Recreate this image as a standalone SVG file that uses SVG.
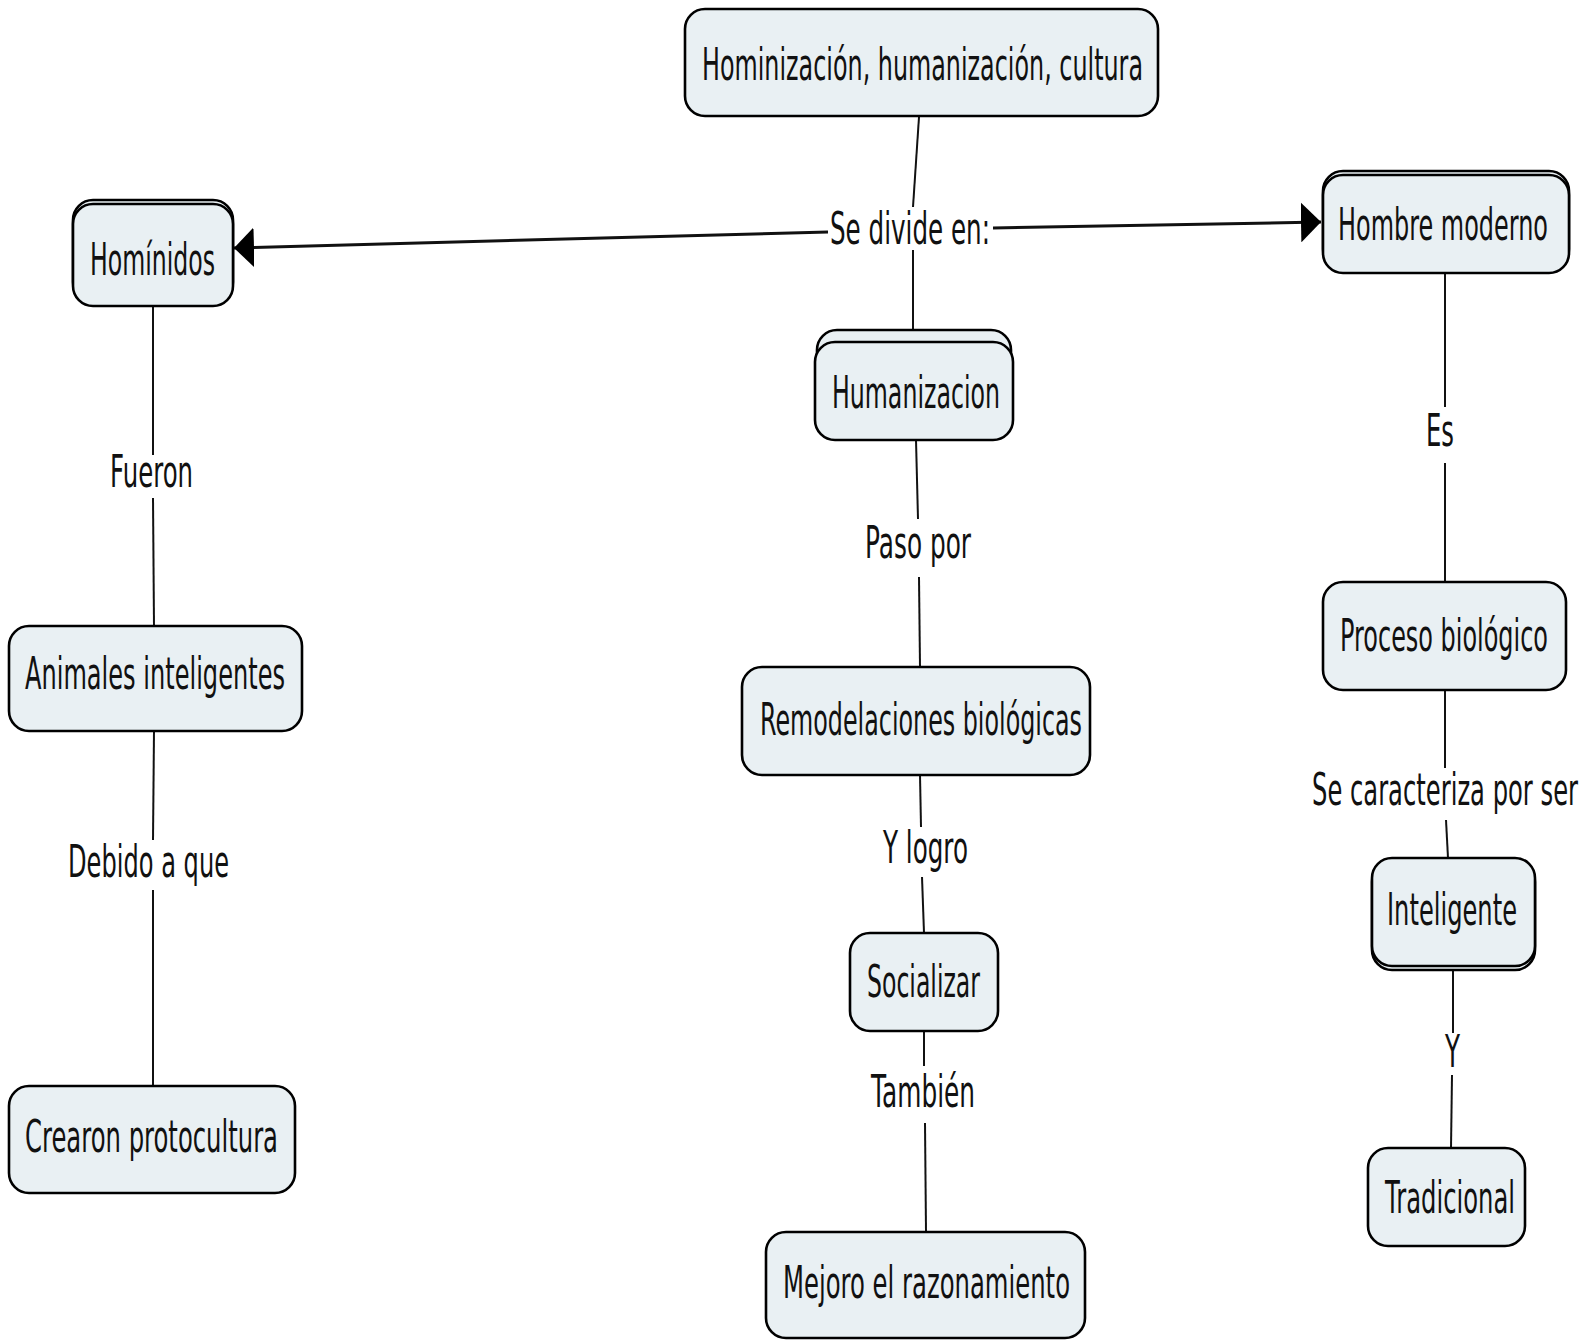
<svg xmlns="http://www.w3.org/2000/svg" width="1596" height="1341" viewBox="0 0 1596 1341">
<defs>
<style>
.box{fill:#e9f0f3;stroke:#000;stroke-width:2.6}
.t{font-family:"DejaVu Sans","Verdana",sans-serif;font-size:22px;fill:#111}
.c{stroke:#111;stroke-width:2;fill:none}
.ca{stroke:#111;stroke-width:3;fill:none}
</style>
<marker id="arr" markerUnits="userSpaceOnUse" markerWidth="20" markerHeight="40" refX="20" refY="20" orient="auto" viewBox="0 0 20 40">
<path d="M0,0 L20,20 L0,40 z" fill="#000"/>
</marker>
</defs>
<rect width="1596" height="1341" fill="#fff"/>
<g id="connectors">
<line class="c" x1="919" y1="117" x2="913" y2="207"/>
<line class="c" x1="913" y1="250" x2="913" y2="330"/>
<line class="ca" x1="828" y1="232" x2="234" y2="248" marker-end="url(#arr)"/>
<line class="ca" x1="993" y1="228" x2="1321" y2="222" marker-end="url(#arr)"/>
<line class="c" x1="153" y1="306" x2="153" y2="455"/>
<line class="c" x1="153" y1="498" x2="154" y2="626"/>
<line class="c" x1="154" y1="731" x2="153" y2="840"/>
<line class="c" x1="153" y1="890" x2="153" y2="1086"/>
<line class="c" x1="916" y1="440" x2="918" y2="519"/>
<line class="c" x1="919" y1="577" x2="920" y2="667"/>
<line class="c" x1="920" y1="775" x2="921" y2="827"/>
<line class="c" x1="922" y1="877" x2="924" y2="933"/>
<line class="c" x1="924" y1="1031" x2="924" y2="1066"/>
<line class="c" x1="925" y1="1123" x2="926" y2="1232"/>
<line class="c" x1="1445" y1="273" x2="1445" y2="407"/>
<line class="c" x1="1445" y1="463" x2="1445" y2="582"/>
<line class="c" x1="1445" y1="690" x2="1445" y2="768"/>
<line class="c" x1="1446" y1="820" x2="1448" y2="858"/>
<line class="c" x1="1453" y1="970" x2="1453" y2="1033"/>
<line class="c" x1="1452" y1="1075" x2="1451" y2="1148"/>
</g>
<g id="link-labels">
<text class="t" transform="translate(830,244) scale(1,2.05)" textLength="160" lengthAdjust="spacingAndGlyphs">Se divide en:</text>
<text class="t" transform="translate(110,487) scale(1,2.05)" textLength="83" lengthAdjust="spacingAndGlyphs">Fueron</text>
<text class="t" transform="translate(68,877) scale(1,2.05)" textLength="161" lengthAdjust="spacingAndGlyphs">Debido a que</text>
<text class="t" transform="translate(865,558) scale(1,2.05)" textLength="106" lengthAdjust="spacingAndGlyphs">Paso por</text>
<text class="t" transform="translate(883,863) scale(1,2.05)" textLength="85" lengthAdjust="spacingAndGlyphs">Y logro</text>
<text class="t" transform="translate(871,1107) scale(1,2.05)" textLength="104" lengthAdjust="spacingAndGlyphs">También</text>
<text class="t" transform="translate(1426,446) scale(1,2.05)" textLength="28" lengthAdjust="spacingAndGlyphs">Es</text>
<text class="t" transform="translate(1312,805) scale(1,2.05)" textLength="266" lengthAdjust="spacingAndGlyphs">Se caracteriza por ser</text>
<text class="t" transform="translate(1445,1067) scale(1,2.05)" textLength="15" lengthAdjust="spacingAndGlyphs">Y</text>
</g>
<g id="n-title">
<rect class="box" x="685" y="9" width="473" height="107" rx="20"/>
<text class="t" transform="translate(702,80) scale(1,2.05)" textLength="441" lengthAdjust="spacingAndGlyphs">Hominización, humanización, cultura</text>
</g>
<g id="n-hominidos">
<rect class="box" x="73" y="200" width="160" height="102" rx="20"/>
<rect class="box" x="73" y="204" width="160" height="102" rx="20"/>
<text class="t" transform="translate(90,275) scale(1,2.05)" textLength="125" lengthAdjust="spacingAndGlyphs">Homínidos</text>
</g>
<g id="n-hombre">
<rect class="box" x="1323" y="171" width="246" height="98" rx="20"/>
<rect class="box" x="1323" y="175" width="246" height="98" rx="20"/>
<text class="t" transform="translate(1338,240) scale(1,2.05)" textLength="210" lengthAdjust="spacingAndGlyphs">Hombre moderno</text>
</g>
<g id="n-humanizacion">
<rect class="box" x="817" y="330" width="194" height="98" rx="20"/>
<rect class="box" x="815" y="342" width="198" height="98" rx="20"/>
<text class="t" transform="translate(832,408) scale(1,2.05)" textLength="168" lengthAdjust="spacingAndGlyphs">Humanizacion</text>
</g>
<g id="n-animales">
<rect class="box" x="9" y="626" width="293" height="105" rx="20"/>
<text class="t" transform="translate(25,689) scale(1,2.05)" textLength="260" lengthAdjust="spacingAndGlyphs">Animales inteligentes</text>
</g>
<g id="n-crearon">
<rect class="box" x="9" y="1086" width="286" height="107" rx="20"/>
<text class="t" transform="translate(25,1152) scale(1,2.05)" textLength="253" lengthAdjust="spacingAndGlyphs">Crearon protocultura</text>
</g>
<g id="n-remodelaciones">
<rect class="box" x="742" y="667" width="348" height="108" rx="20"/>
<text class="t" transform="translate(760,735) scale(1,2.05)" textLength="322" lengthAdjust="spacingAndGlyphs">Remodelaciones biológicas</text>
</g>
<g id="n-socializar">
<rect class="box" x="850" y="933" width="148" height="98" rx="20"/>
<text class="t" transform="translate(867,997) scale(1,2.05)" textLength="113" lengthAdjust="spacingAndGlyphs">Socializar</text>
</g>
<g id="n-mejoro">
<rect class="box" x="766" y="1232" width="319" height="106" rx="20"/>
<text class="t" transform="translate(783,1298) scale(1,2.05)" textLength="287" lengthAdjust="spacingAndGlyphs">Mejoro el razonamiento</text>
</g>
<g id="n-proceso">
<rect class="box" x="1323" y="582" width="243" height="108" rx="20"/>
<text class="t" transform="translate(1340,651) scale(1,2.05)" textLength="208" lengthAdjust="spacingAndGlyphs">Proceso biológico</text>
</g>
<g id="n-inteligente">
<rect class="box" x="1372" y="862" width="163" height="108" rx="20"/>
<rect class="box" x="1372" y="858" width="163" height="108" rx="20"/>
<text class="t" transform="translate(1387,925) scale(1,2.05)" textLength="130" lengthAdjust="spacingAndGlyphs">Inteligente</text>
</g>
<g id="n-tradicional">
<rect class="box" x="1368" y="1148" width="157" height="98" rx="20"/>
<text class="t" transform="translate(1385,1213) scale(1,2.05)" textLength="130" lengthAdjust="spacingAndGlyphs">Tradicional</text>
</g>
</svg>
